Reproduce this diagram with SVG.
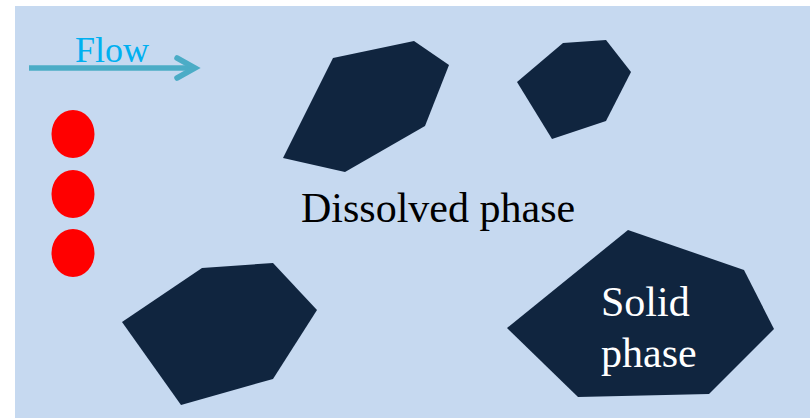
<svg xmlns="http://www.w3.org/2000/svg" width="810" height="418" viewBox="0 0 810 418">
<style>
.t{font-size:42px}
.solid{fill:#10253F}
.dot{fill:#FF0000}
</style>
<rect width="810" height="418" fill="#FFFFFF"/>
<rect x="15" y="6" width="795" height="412" fill="#C6D9F0"/>
<g id="flow">
<line x1="29" y1="68" x2="194" y2="68" stroke="#4BACC6" stroke-width="5.5"/>
<polyline points="177,58 195,68 177,78" fill="none" stroke="#4BACC6" stroke-width="5.5" stroke-linecap="round" stroke-linejoin="miter"/>
<text x="75" y="62" font-family="Liberation Serif" font-size="36" fill="#00B0F0">Flow</text>
</g>
<g id="dots">
<ellipse class="dot" cx="73" cy="134" rx="21.5" ry="24"/>
<ellipse class="dot" cx="73" cy="194" rx="21.5" ry="24"/>
<ellipse class="dot" cx="73" cy="253" rx="21.5" ry="24"/>
</g>
<g id="particle1"><polygon class="solid" points="283,158 333,58 414,41 449,65 425,126 345,172"/></g>
<g id="particle2"><polygon class="solid" points="517,82 563,43 606,40 631,72 606,121 552,139"/></g>
<g id="particle3"><polygon class="solid" points="122,322 202,268 273,263 317,310 273,379 181,405"/></g>
<g id="particle4">
<polygon class="solid" points="507,328 628,230 744,270 774,329 709,394 578,397"/>
<text class="t" x="601" y="316" font-family="Liberation Serif" fill="#FFFFFF">Solid</text>
<text class="t" x="601" y="367" font-family="Liberation Serif" fill="#FFFFFF">phase</text>
</g>
<g id="dissolved"><text class="t" x="301" y="222" font-family="Liberation Serif" fill="#000000">Dissolved phase</text></g>
</svg>
